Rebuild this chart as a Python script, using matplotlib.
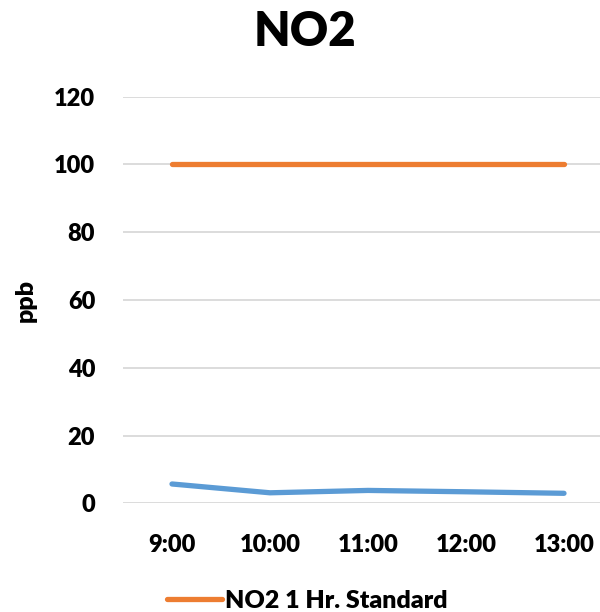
import matplotlib
matplotlib.use("Agg")
import matplotlib.pyplot as plt
from matplotlib.lines import Line2D

times = ["9:00", "10:00", "11:00", "12:00", "13:00"]
no2 = [5.7, 3.1, 3.8, 3.4, 2.95]
standard = [100, 100, 100, 100, 100]
yticks = [0, 20, 40, 60, 80, 100, 120]

plt.rcParams['font.family'] = ['Lato', 'DejaVu Sans']
WEIGHT = 'heavy'
plt.rcParams['font.weight'] = WEIGHT

W, H = 600, 612
fig = plt.figure(figsize=(W/100, H/100), dpi=100)
left, right = 123, 613
bottom, top = 503.3, 96.7
ax = fig.add_axes([left/W, (H-bottom)/H, (right-left)/W, (bottom-top)/H])

x = list(range(len(times)))
ax.plot(x, no2, color='#5B9BD5', lw=3.8, solid_capstyle='round', solid_joinstyle='round', zorder=3)
ax.plot(x, standard, color='#ED7D31', lw=3.8, solid_capstyle='round', zorder=3)

ax.set_xlim(-0.5, len(times)-0.5)
ax.set_ylim(0, 120)
ax.set_yticks(yticks)
ax.set_xticks(x)
ax.set_xticklabels(times)
ax.tick_params(axis='both', length=0, labelsize=17, colors='black')
ax.tick_params(axis='y', pad=20)
ax.tick_params(axis='x', pad=22)
for lab in ax.get_xticklabels() + ax.get_yticklabels():
    lab.set_fontweight(WEIGHT)
ax.grid(axis='y', color='#D9D9D9', lw=1.3, zorder=0)
for s in ax.spines.values():
    s.set_visible(False)

ax.set_ylabel('ppb', fontsize=18, fontweight=WEIGHT)
ax.yaxis.set_label_coords(-(123-37)/490, 0.5)

fig.text(305/W, 1-32/H, 'NO2', ha='center', va='center', fontsize=34, fontweight=WEIGHT)

handles = [Line2D([0], [0], color='#ED7D31', lw=3.8, solid_capstyle='round')]
fig.legend(handles, ['NO2 1 Hr. Standard'], loc='center', bbox_to_anchor=(307/W, 1-601/H),
           frameon=False, handlelength=2.2, handletextpad=0.12,
           prop={'weight': WEIGHT, 'size': 18})

fig.savefig('out.png', dpi=100)
